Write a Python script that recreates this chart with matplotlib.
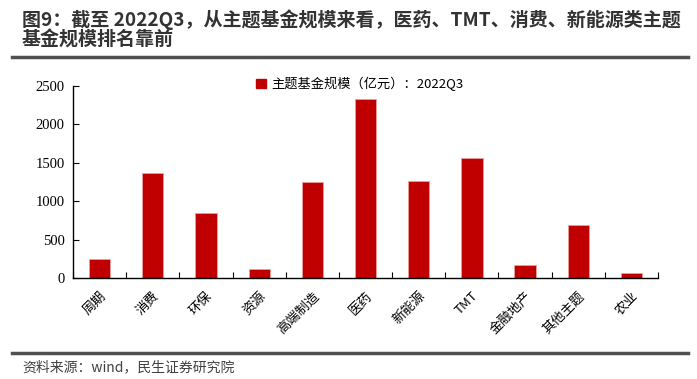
import numpy as np
import matplotlib.pyplot as plt
from matplotlib.lines import Line2D
from matplotlib.patches import Patch

plt.rcParams['font.family'] = ['Noto Sans CJK SC', 'DejaVu Sans']

categories = ["周期", "消费", "环保", "资源", "高端制造", "医药", "新能源", "TMT",
              "金融地产", "其他主题", "农业"]
values = [245, 1365, 842, 113, 1250, 2327, 1267, 1567, 169, 686, 61]
legend_label = "主题基金规模（亿元）：2022Q3"
title = "图9：截至 2022Q3，从主题基金规模来看，医药、TMT、消费、新能源类主题\n基金规模排名靠前"
source = "资料来源：wind，民生证券研究院"

fig = plt.figure(figsize=(6.97, 3.79), dpi=100)
ax = fig.add_axes([73/697, 1 - 278/379, (658 - 73)/697, (278 - 86)/379])

x = np.arange(len(categories))
ax.bar(x, values, width=0.4, color='#c00000', edgecolor='#e8a0a0', linewidth=0.6)

ax.set_xlim(-0.5, len(categories) - 0.5)
ax.set_ylim(0, 2500)
ax.set_yticks([0, 500, 1000, 1500, 2000, 2500])
ax.set_xticks(np.arange(-0.5, len(categories), 1))
ax.set_xticklabels([])
ax.set_xticks(x, minor=True)
ax.set_xticklabels(categories, minor=True, rotation=45, ha='right', va='top',
                   rotation_mode='anchor', fontsize=9.5)
ax.tick_params(axis='x', which='minor', length=0, pad=8)
ax.tick_params(axis='x', which='major', direction='in', length=4, width=0.8)
ax.tick_params(axis='y', direction='in', length=4, width=0.8, pad=6)
for lab in ax.get_yticklabels():
    lab.set_fontfamily('Liberation Serif')
    lab.set_fontsize(10.5)
for s in ['top', 'right']:
    ax.spines[s].set_visible(False)
for s in ['left', 'bottom']:
    ax.spines[s].set_linewidth(1.0)

ax.legend(handles=[Patch(color='#c00000', label=legend_label)], loc='upper center',
          bbox_to_anchor=(0.49, 1.11), frameon=False, fontsize=9.5,
          handlelength=0.7, handleheight=0.7, handletextpad=0.4)

fig.text(22/697, 1 - 9/379, title, fontsize=13.7, fontweight='bold', color='#333333',
         va='top', ha='left', linespacing=1.05)
fig.add_artist(Line2D([12/697, 688/697], [1 - 57/379] * 2, color='#505050', lw=2.5))
fig.add_artist(Line2D([12/697, 688/697], [1 - 353/379] * 2, color='#505050', lw=2.5))
fig.text(22/697, 1 - 367/379, source, fontsize=10, color='#404040', va='center', ha='left')

fig.savefig('out.png', dpi=100)
